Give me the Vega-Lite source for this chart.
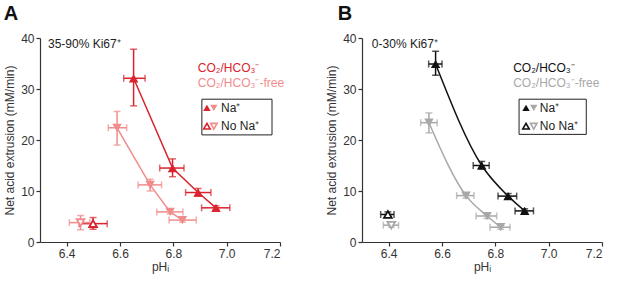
{
  "$schema": "https://vega.github.io/schema/vega-lite/v6.json",
  "padding": {"left": 3, "top": 4, "right": 5, "bottom": 3},
  "background": "white",
  "bounds": "flush",
  "spacing": 82,
  "config": {
    "font": "Liberation Sans",
    "view": {"stroke": null},
    "axis": {"grid": false, "domainColor": "#333", "tickColor": "#333", "labelColor": "#333", "titleColor": "#333", "labelFont": "Liberation Sans", "titleFont": "Liberation Sans", "labelFontSize": 12, "titleFontSize": 12, "titleFontWeight": "normal", "tickSize": 4, "labelPadding": 2, "domainWidth": 1.2, "tickWidth": 1.2},
    "axisY": {"titlePadding": 4},
    "axisX": {"titlePadding": 2},
    "title": {"font": "Liberation Sans", "fontSize": 20, "fontWeight": "bold", "anchor": "start", "frame": "bounds", "color": "#111", "offset": 8}
  },
  "datasets": {
    "pts": [
      {"p": "A", "g": "A-bic", "s": "bic", "na": "yes", "x": 6.651, "xlo": 6.614, "xhi": 6.694, "y": 32.1, "ylo": 26.7, "yhi": 37.8},
      {"p": "A", "g": "A-bic", "s": "bic", "na": "yes", "x": 6.797, "xlo": 6.749, "xhi": 6.84, "y": 14.5, "ylo": 12.8, "yhi": 16.3},
      {"p": "A", "g": "A-bic", "s": "bic", "na": "yes", "x": 6.893, "xlo": 6.846, "xhi": 6.941, "y": 9.7, "ylo": 9.0, "yhi": 10.5},
      {"p": "A", "g": "A-bic", "s": "bic", "na": "yes", "x": 6.96, "xlo": 6.906, "xhi": 7.012, "y": 6.7, "ylo": 6.3, "yhi": 7.1},
      {"p": "A", "g": "A-bic", "s": "bic", "na": "no", "x": 6.499, "xlo": 6.447, "xhi": 6.552, "y": 3.6, "ylo": 2.5, "yhi": 4.8},
      {"p": "A", "g": "A-free", "s": "free", "na": "yes", "x": 6.589, "xlo": 6.556, "xhi": 6.625, "y": 22.4, "ylo": 19.0, "yhi": 25.6},
      {"p": "A", "g": "A-free", "s": "free", "na": "yes", "x": 6.713, "xlo": 6.668, "xhi": 6.756, "y": 11.2, "ylo": 10.0, "yhi": 12.3},
      {"p": "A", "g": "A-free", "s": "free", "na": "yes", "x": 6.788, "xlo": 6.738, "xhi": 6.836, "y": 5.9, "ylo": 5.5, "yhi": 6.3},
      {"p": "A", "g": "A-free", "s": "free", "na": "yes", "x": 6.834, "xlo": 6.784, "xhi": 6.886, "y": 4.3, "ylo": 3.9, "yhi": 4.7},
      {"p": "A", "g": "A-free", "s": "free", "na": "no", "x": 6.452, "xlo": 6.41, "xhi": 6.487, "y": 3.8, "ylo": 2.4, "yhi": 5.2},
      {"p": "B", "g": "B-bic", "s": "bic", "na": "yes", "x": 6.576, "xlo": 6.55, "xhi": 6.6, "y": 34.9, "ylo": 32.7, "yhi": 37.4},
      {"p": "B", "g": "B-bic", "s": "bic", "na": "yes", "x": 6.749, "xlo": 6.717, "xhi": 6.777, "y": 15.0, "ylo": 14.3, "yhi": 15.8},
      {"p": "B", "g": "B-bic", "s": "bic", "na": "yes", "x": 6.848, "xlo": 6.81, "xhi": 6.88, "y": 9.0, "ylo": 8.5, "yhi": 9.5},
      {"p": "B", "g": "B-bic", "s": "bic", "na": "yes", "x": 6.91, "xlo": 6.874, "xhi": 6.943, "y": 6.1, "ylo": 5.7, "yhi": 6.5},
      {"p": "B", "g": "B-bic", "s": "bic", "na": "no", "x": 6.397, "xlo": 6.37, "xhi": 6.42, "y": 5.4, "ylo": 4.9, "yhi": 5.9},
      {"p": "B", "g": "B-free", "s": "free", "na": "yes", "x": 6.551, "xlo": 6.52, "xhi": 6.582, "y": 23.4, "ylo": 21.4, "yhi": 25.3},
      {"p": "B", "g": "B-free", "s": "free", "na": "yes", "x": 6.69, "xlo": 6.655, "xhi": 6.72, "y": 9.1, "ylo": 8.6, "yhi": 9.6},
      {"p": "B", "g": "B-free", "s": "free", "na": "yes", "x": 6.769, "xlo": 6.728, "xhi": 6.805, "y": 5.1, "ylo": 4.6, "yhi": 5.6},
      {"p": "B", "g": "B-free", "s": "free", "na": "yes", "x": 6.82, "xlo": 6.78, "xhi": 6.855, "y": 2.9, "ylo": 2.5, "yhi": 3.3},
      {"p": "B", "g": "B-free", "s": "free", "na": "no", "x": 6.41, "xlo": 6.38, "xhi": 6.437, "y": 3.3, "ylo": 2.9, "yhi": 3.7}
    ],
    "txt": [
      {"p": "A", "g": "K", "x": 6.33, "y": 38.8, "t": "35-90% Ki67⁺"},
      {"p": "A", "g": "A-bic", "x": 6.892, "y": 34.1, "t": "CO₂/HCO₃⁻"},
      {"p": "A", "g": "A-free", "x": 6.892, "y": 31.2, "t": "CO₂/HCO₃⁻-free"},
      {"p": "A", "g": "K", "x": 6.979, "y": 26.3, "t": "Na⁺"},
      {"p": "A", "g": "K", "x": 6.979, "y": 22.7, "t": "No Na⁺"},
      {"p": "B", "g": "K", "x": 6.337, "y": 38.8, "t": "0-30% Ki67⁺"},
      {"p": "B", "g": "B-bic", "x": 6.867, "y": 34.1, "t": "CO₂/HCO₃⁻"},
      {"p": "B", "g": "B-free", "x": 6.867, "y": 31.2, "t": "CO₂/HCO₃⁻-free"},
      {"p": "B", "g": "K", "x": 6.967, "y": 26.3, "t": "Na⁺"},
      {"p": "B", "g": "K", "x": 6.967, "y": 22.7, "t": "No Na⁺"}
    ],
    "box": [
      {"p": "A", "x": 6.907, "x2": 7.17, "y": 28.0, "y2": 21.0},
      {"p": "B", "x": 6.889, "x2": 7.141, "y": 28.0, "y2": 21.1}
    ],
    "sym": [
      {"p": "A", "g": "A-bic", "s": "bic", "na": "yes", "x": 6.926, "y": 26.3},
      {"p": "A", "g": "A-free", "s": "free", "na": "yes", "x": 6.952, "y": 26.3},
      {"p": "A", "g": "A-bic", "s": "bic", "na": "no", "x": 6.926, "y": 22.7},
      {"p": "A", "g": "A-free", "s": "free", "na": "no", "x": 6.952, "y": 22.7},
      {"p": "B", "g": "B-bic", "s": "bic", "na": "yes", "x": 6.915, "y": 26.3},
      {"p": "B", "g": "B-free", "s": "free", "na": "yes", "x": 6.944, "y": 26.3},
      {"p": "B", "g": "B-bic", "s": "bic", "na": "no", "x": 6.915, "y": 22.7},
      {"p": "B", "g": "B-free", "s": "free", "na": "no", "x": 6.944, "y": 22.7}
    ]
  },
  "hconcat": [
    {
      "width": 240, "height": 204,
      "title": {"text": "A", "dx": 0},
      "layer": [
        {"data": {"name": "box"}, "transform": [{"filter": "datum.p=='A'"}], "mark": {"type": "rect", "fill": "white", "stroke": "#222", "strokeWidth": 1},
         "encoding": {"x": {"field": "x", "type": "quantitative", "scale": {"domain": [6.3, 7.2]}, "title": "pHᵢ", "axis": {"values": [6.4, 6.6, 6.8, 7.0, 7.2], "format": ".1f"}}, "x2": {"field": "x2"}, "y": {"field": "y", "type": "quantitative", "scale": {"domain": [0, 40]}, "title": "Net acid extrusion (mM/min)", "axis": {"values": [0, 10, 20, 30, 40]}}, "y2": {"field": "y2"}}},
        {"data": {"name": "pts"}, "transform": [{"filter": "datum.p=='A' && datum.na=='yes'"}], "mark": {"type": "line", "strokeWidth": 1.5},
         "encoding": {"x": {"field": "x", "type": "quantitative", "title": "pHᵢ"}, "y": {"field": "y", "type": "quantitative", "title": "Net acid extrusion (mM/min)"}, "color": {"field": "g", "type": "nominal", "scale": {"domain": ["A-bic", "A-free", "B-bic", "B-free", "K"], "range": ["#d9232d", "#f08c8c", "#111111", "#a8a8a8", "#222222"]}, "legend": null}}},
        {"data": {"name": "pts"}, "transform": [{"filter": "datum.p=='A'"}], "mark": {"type": "rule", "strokeWidth": 1.5},
         "encoding": {"x": {"field": "xlo", "type": "quantitative", "title": "pHᵢ"}, "x2": {"field": "xhi"}, "y": {"field": "y", "type": "quantitative", "title": "Net acid extrusion (mM/min)"}, "color": {"field": "g", "type": "nominal", "legend": null}}},
        {"data": {"name": "pts"}, "transform": [{"filter": "datum.p=='A'"}], "mark": {"type": "rule", "strokeWidth": 1.5},
         "encoding": {"x": {"field": "x", "type": "quantitative", "title": "pHᵢ"}, "y": {"field": "ylo", "type": "quantitative", "title": "Net acid extrusion (mM/min)"}, "y2": {"field": "yhi"}, "color": {"field": "g", "type": "nominal", "legend": null}}},
        {"data": {"name": "pts"}, "transform": [{"filter": "datum.p=='A'"}], "mark": {"type": "tick", "orient": "vertical", "size": 7, "thickness": 1.5},
         "encoding": {"x": {"field": "xlo", "type": "quantitative", "title": "pHᵢ"}, "y": {"field": "y", "type": "quantitative", "title": "Net acid extrusion (mM/min)"}, "color": {"field": "g", "type": "nominal", "legend": null}}},
        {"data": {"name": "pts"}, "transform": [{"filter": "datum.p=='A'"}], "mark": {"type": "tick", "orient": "vertical", "size": 7, "thickness": 1.5},
         "encoding": {"x": {"field": "xhi", "type": "quantitative", "title": "pHᵢ"}, "y": {"field": "y", "type": "quantitative", "title": "Net acid extrusion (mM/min)"}, "color": {"field": "g", "type": "nominal", "legend": null}}},
        {"data": {"name": "pts"}, "transform": [{"filter": "datum.p=='A'"}], "mark": {"type": "tick", "orient": "horizontal", "size": 7, "thickness": 1.5},
         "encoding": {"x": {"field": "x", "type": "quantitative", "title": "pHᵢ"}, "y": {"field": "ylo", "type": "quantitative", "title": "Net acid extrusion (mM/min)"}, "color": {"field": "g", "type": "nominal", "legend": null}}},
        {"data": {"name": "pts"}, "transform": [{"filter": "datum.p=='A'"}], "mark": {"type": "tick", "orient": "horizontal", "size": 7, "thickness": 1.5},
         "encoding": {"x": {"field": "x", "type": "quantitative", "title": "pHᵢ"}, "y": {"field": "yhi", "type": "quantitative", "title": "Net acid extrusion (mM/min)"}, "color": {"field": "g", "type": "nominal", "legend": null}}},
        {"data": {"name": "pts"}, "transform": [{"filter": "datum.p=='A' && datum.na=='yes'"}], "mark": {"type": "point", "filled": true, "opacity": 1, "size": 90},
         "encoding": {"x": {"field": "x", "type": "quantitative", "title": "pHᵢ"}, "y": {"field": "y", "type": "quantitative", "title": "Net acid extrusion (mM/min)"}, "color": {"field": "g", "type": "nominal", "legend": null}, "shape": {"field": "s", "type": "nominal", "scale": {"domain": ["bic", "free"], "range": ["triangle-up", "triangle-down"]}, "legend": null}}},
        {"data": {"name": "pts"}, "transform": [{"filter": "datum.p=='A' && datum.na=='no'"}], "mark": {"type": "point", "filled": false, "opacity": 1, "size": 60, "strokeWidth": 1.8, "fill": "white"},
         "encoding": {"x": {"field": "x", "type": "quantitative", "title": "pHᵢ"}, "y": {"field": "y", "type": "quantitative", "title": "Net acid extrusion (mM/min)"}, "color": {"field": "g", "type": "nominal", "legend": null}, "shape": {"field": "s", "type": "nominal", "legend": null}}},
        {"data": {"name": "sym"}, "transform": [{"filter": "datum.p=='A' && datum.na=='yes'"}], "mark": {"type": "point", "filled": true, "opacity": 1, "size": 55},
         "encoding": {"x": {"field": "x", "type": "quantitative", "title": "pHᵢ"}, "y": {"field": "y", "type": "quantitative", "title": "Net acid extrusion (mM/min)"}, "color": {"field": "g", "type": "nominal", "legend": null}, "shape": {"field": "s", "type": "nominal", "legend": null}}},
        {"data": {"name": "sym"}, "transform": [{"filter": "datum.p=='A' && datum.na=='no'"}], "mark": {"type": "point", "filled": false, "opacity": 1, "size": 42, "strokeWidth": 1.6},
         "encoding": {"x": {"field": "x", "type": "quantitative", "title": "pHᵢ"}, "y": {"field": "y", "type": "quantitative", "title": "Net acid extrusion (mM/min)"}, "color": {"field": "g", "type": "nominal", "legend": null}, "shape": {"field": "s", "type": "nominal", "legend": null}}},
        {"data": {"name": "txt"}, "transform": [{"filter": "datum.p=='A'"}], "mark": {"type": "text", "align": "left", "baseline": "middle", "fontSize": 12, "font": "Liberation Sans"},
         "encoding": {"x": {"field": "x", "type": "quantitative", "title": "pHᵢ"}, "y": {"field": "y", "type": "quantitative", "title": "Net acid extrusion (mM/min)"}, "text": {"field": "t"}, "color": {"field": "g", "type": "nominal", "legend": null}}}
      ]
    },
    {
      "width": 240, "height": 204,
      "title": {"text": "B", "dx": 12},
      "layer": [
        {"data": {"name": "box"}, "transform": [{"filter": "datum.p=='B'"}], "mark": {"type": "rect", "fill": "white", "stroke": "#222", "strokeWidth": 1},
         "encoding": {"x": {"field": "x", "type": "quantitative", "scale": {"domain": [6.3, 7.2]}, "title": "pHᵢ", "axis": {"values": [6.4, 6.6, 6.8, 7.0, 7.2], "format": ".1f"}}, "x2": {"field": "x2"}, "y": {"field": "y", "type": "quantitative", "scale": {"domain": [0, 40]}, "title": "Net acid extrusion (mM/min)", "axis": {"values": [0, 10, 20, 30, 40]}}, "y2": {"field": "y2"}}},
        {"data": {"name": "pts"}, "transform": [{"filter": "datum.p=='B' && datum.na=='yes'"}], "mark": {"type": "line", "strokeWidth": 1.5, "interpolate": "monotone"},
         "encoding": {"x": {"field": "x", "type": "quantitative", "title": "pHᵢ"}, "y": {"field": "y", "type": "quantitative", "title": "Net acid extrusion (mM/min)"}, "color": {"field": "g", "type": "nominal", "scale": {"domain": ["A-bic", "A-free", "B-bic", "B-free", "K"], "range": ["#d9232d", "#f08c8c", "#111111", "#a8a8a8", "#222222"]}, "legend": null}}},
        {"data": {"name": "pts"}, "transform": [{"filter": "datum.p=='B'"}], "mark": {"type": "rule", "strokeWidth": 1.5},
         "encoding": {"x": {"field": "xlo", "type": "quantitative", "title": "pHᵢ"}, "x2": {"field": "xhi"}, "y": {"field": "y", "type": "quantitative", "title": "Net acid extrusion (mM/min)"}, "color": {"field": "g", "type": "nominal", "legend": null}}},
        {"data": {"name": "pts"}, "transform": [{"filter": "datum.p=='B'"}], "mark": {"type": "rule", "strokeWidth": 1.5},
         "encoding": {"x": {"field": "x", "type": "quantitative", "title": "pHᵢ"}, "y": {"field": "ylo", "type": "quantitative", "title": "Net acid extrusion (mM/min)"}, "y2": {"field": "yhi"}, "color": {"field": "g", "type": "nominal", "legend": null}}},
        {"data": {"name": "pts"}, "transform": [{"filter": "datum.p=='B'"}], "mark": {"type": "tick", "orient": "vertical", "size": 7, "thickness": 1.5},
         "encoding": {"x": {"field": "xlo", "type": "quantitative", "title": "pHᵢ"}, "y": {"field": "y", "type": "quantitative", "title": "Net acid extrusion (mM/min)"}, "color": {"field": "g", "type": "nominal", "legend": null}}},
        {"data": {"name": "pts"}, "transform": [{"filter": "datum.p=='B'"}], "mark": {"type": "tick", "orient": "vertical", "size": 7, "thickness": 1.5},
         "encoding": {"x": {"field": "xhi", "type": "quantitative", "title": "pHᵢ"}, "y": {"field": "y", "type": "quantitative", "title": "Net acid extrusion (mM/min)"}, "color": {"field": "g", "type": "nominal", "legend": null}}},
        {"data": {"name": "pts"}, "transform": [{"filter": "datum.p=='B'"}], "mark": {"type": "tick", "orient": "horizontal", "size": 7, "thickness": 1.5},
         "encoding": {"x": {"field": "x", "type": "quantitative", "title": "pHᵢ"}, "y": {"field": "ylo", "type": "quantitative", "title": "Net acid extrusion (mM/min)"}, "color": {"field": "g", "type": "nominal", "legend": null}}},
        {"data": {"name": "pts"}, "transform": [{"filter": "datum.p=='B'"}], "mark": {"type": "tick", "orient": "horizontal", "size": 7, "thickness": 1.5},
         "encoding": {"x": {"field": "x", "type": "quantitative", "title": "pHᵢ"}, "y": {"field": "yhi", "type": "quantitative", "title": "Net acid extrusion (mM/min)"}, "color": {"field": "g", "type": "nominal", "legend": null}}},
        {"data": {"name": "pts"}, "transform": [{"filter": "datum.p=='B' && datum.na=='yes'"}], "mark": {"type": "point", "filled": true, "opacity": 1, "size": 90},
         "encoding": {"x": {"field": "x", "type": "quantitative", "title": "pHᵢ"}, "y": {"field": "y", "type": "quantitative", "title": "Net acid extrusion (mM/min)"}, "color": {"field": "g", "type": "nominal", "legend": null}, "shape": {"field": "s", "type": "nominal", "scale": {"domain": ["bic", "free"], "range": ["triangle-up", "triangle-down"]}, "legend": null}}},
        {"data": {"name": "pts"}, "transform": [{"filter": "datum.p=='B' && datum.na=='no'"}], "mark": {"type": "point", "filled": false, "opacity": 1, "size": 60, "strokeWidth": 1.8, "fill": "white"},
         "encoding": {"x": {"field": "x", "type": "quantitative", "title": "pHᵢ"}, "y": {"field": "y", "type": "quantitative", "title": "Net acid extrusion (mM/min)"}, "color": {"field": "g", "type": "nominal", "legend": null}, "shape": {"field": "s", "type": "nominal", "legend": null}}},
        {"data": {"name": "sym"}, "transform": [{"filter": "datum.p=='B' && datum.na=='yes'"}], "mark": {"type": "point", "filled": true, "opacity": 1, "size": 55},
         "encoding": {"x": {"field": "x", "type": "quantitative", "title": "pHᵢ"}, "y": {"field": "y", "type": "quantitative", "title": "Net acid extrusion (mM/min)"}, "color": {"field": "g", "type": "nominal", "legend": null}, "shape": {"field": "s", "type": "nominal", "legend": null}}},
        {"data": {"name": "sym"}, "transform": [{"filter": "datum.p=='B' && datum.na=='no'"}], "mark": {"type": "point", "filled": false, "opacity": 1, "size": 42, "strokeWidth": 1.6},
         "encoding": {"x": {"field": "x", "type": "quantitative", "title": "pHᵢ"}, "y": {"field": "y", "type": "quantitative", "title": "Net acid extrusion (mM/min)"}, "color": {"field": "g", "type": "nominal", "legend": null}, "shape": {"field": "s", "type": "nominal", "legend": null}}},
        {"data": {"name": "txt"}, "transform": [{"filter": "datum.p=='B'"}], "mark": {"type": "text", "align": "left", "baseline": "middle", "fontSize": 12, "font": "Liberation Sans"},
         "encoding": {"x": {"field": "x", "type": "quantitative", "title": "pHᵢ"}, "y": {"field": "y", "type": "quantitative", "title": "Net acid extrusion (mM/min)"}, "text": {"field": "t"}, "color": {"field": "g", "type": "nominal", "legend": null}}}
      ]
    }
  ]
}
